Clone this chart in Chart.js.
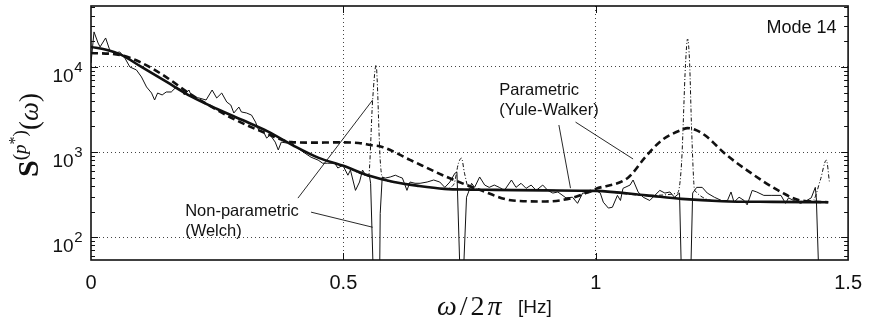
<!DOCTYPE html>
<html>
<head>
<meta charset="utf-8">
<script src="https://cdn.jsdelivr.net/npm/chart.js@4.4.0/dist/chart.umd.min.js"></script>
<style>
  html, body { margin: 0; padding: 0; background: #fff; }
  #wrap { width: 873px; height: 324px; }
</style>
</head>
<body>
<div id="wrap"><canvas id="chart1"></canvas></div>
<script>
// Welch estimate (thin solid), dips go below the axis
const welchX = [0,0.006,0.014,0.018,0.029,0.037,0.047,0.057,0.067,0.077,
  0.090,0.100,0.110,0.120,0.126,0.132,0.141,0.149,0.159,0.169,
  0.179,0.185,0.194,0.200,0.214,0.228,0.240,0.249,0.259,0.269,
  0.277,0.283,0.293,0.298,0.308,0.318,0.326,0.332,0.342,0.348,
  0.355,0.365,0.371,0.377,0.387,0.397,0.406,0.424,0.436,0.450,
  0.459,0.469,0.483,0.489,0.499,0.509,0.514,0.524,0.532,0.538,
  0.544,0.552,0.554,0.562,0.571,0.573,0.577,0.583,0.593,0.603,
  0.611,0.617,0.626,0.632,0.642,0.652,0.666,0.679,0.691,0.701,
  0.711,0.721,0.725,0.734,0.744,0.748,0.754,0.760,0.770,0.780,
  0.789,0.799,0.809,0.819,0.833,0.842,0.852,0.862,0.872,0.882,
  0.895,0.905,0.915,0.925,0.941,0.954,0.964,0.974,0.986,1.000,
  1.009,1.015,1.025,1.033,1.043,1.049,1.054,1.068,1.074,1.084,
  1.094,1.107,1.117,1.127,1.137,1.147,1.156,1.166,1.172,1.186,
  1.192,1.200,1.211,1.221,1.235,1.249,1.261,1.268,1.274,1.284,
  1.294,1.300,1.310,1.319,1.333,1.349,1.367,1.376,1.382,1.392,
  1.406,1.418,1.427,1.435,1.437,1.445];
const welchY = [11140,25800,19100,17200,21900,15850,14600,15000,12760,10000,
  9220,7630,5820,4940,4090,4940,4690,5080,5080,5820,
  5360,4690,5360,4440,4320,4090,5360,4320,4940,3870,
  3570,2880,3380,2960,2880,2720,2250,1820,1720,1460,
  1590,1310,1060,1310,1280,1310,1150,970,870,805,
  740,740,740,650,700,535,615,355,445,615,
  535,510,430,10,10,190,510,495,510,535,
  510,495,355,445,430,430,445,470,445,385,
  445,565,580,10,295,340,430,385,510,410,
  385,410,385,355,470,385,430,375,410,355,
  410,355,330,340,290,295,250,330,330,355,
  330,258,220,225,310,270,375,410,470,340,
  295,270,310,355,330,340,295,330,10,10,
  330,385,385,330,295,270,270,340,258,295,
  270,240,355,340,310,310,310,250,290,270,
  250,270,290,385,295,10];

// smooth fit (thick solid)
const smoothX = [0,0.03,0.06,0.1,0.15,0.2,0.25,0.3,0.35,0.4,0.45,0.5,0.55,0.6,0.65,0.7,0.75,0.8,0.9,1.0,1.1,1.17,1.25,1.35,1.46];
const smoothY = [17200,15900,13840,10000,6660,4440,3210,2380,1750,1200,860,690,530,445,400,370,362,360,355,350,310,282,265,260,258];

// Yule-Walker (thick dashed)
const ywX = [0,0.057,0.096,0.149,0.19,0.214,0.279,0.346,0.397,0.44,0.489,0.530,0.554,0.577,0.632,0.705,0.770,0.836,0.901,0.954,1.0,1.064,1.098,1.131,1.170,1.182,1.200,1.221,1.255,1.30,1.367,1.406,1.461];
const ywY = [14600,13840,11500,7600,5100,4150,2510,1670,1310,1290,1300,1280,1210,1150,810,510,360,270,263,290,370,500,870,1380,1820,1910,1800,1500,970,610,340,270,258];

// sharp-peak spectrum (thin dash-dot), hidden under the fit between peaks
const peakX = [0,0.03,0.06,0.1,0.15,0.2,0.25,0.3,0.35,0.4,0.45,0.5,0.55,0.558,0.565,0.567,0.571,0.573,0.577,0.6,0.65,0.7,0.719,0.728,0.734,0.740,0.748,0.8,0.9,1.0,1.1,1.162,1.170,1.178,1.182,1.186,1.190,1.196,1.25,1.35,1.43,1.445,1.457,1.463];
const peakY = [17200,15900,13840,10000,6660,4440,3210,2380,1750,1200,860,690,530,4090,10560,7030,1500,805,510,445,400,370,420,740,850,565,385,360,355,350,310,330,740,11140,21300,11140,1820,355,265,260,270,470,805,445];

const yPowers = [2, 3, 4];
const xTicks = [0, 0.5, 1, 1.5];

// annotation texts and leader lines (data coords)
const notes = [
  {text: 'Mode 14', x: 1.477, y: 28800, align: 'right', size: 18},
  {text: 'Parametric', x: 0.809, y: 5360, align: 'left', size: 16.5},
  {text: '(Yule-Walker)', x: 0.809, y: 3120, align: 'left', size: 16.5},
  {text: 'Non-parametric', x: 0.1865, y: 202, align: 'left', size: 16.5},
  {text: '(Welch)', x: 0.1865, y: 118, align: 'left', size: 16.5}
];
const leaders = [
  [0.927, 2080, 0.950, 377],
  [0.960, 2250, 1.074, 830],
  [0.410, 288, 0.558, 4090],
  [0.436, 197, 0.558, 131]
];

//helper functions
function pts(xs, ys) {
  return xs.map((v, i) => ({x: v, y: ys[i]}));
}
function isPow10(v) {
  const e = Math.log10(v);
  return Math.abs(e - Math.round(e)) < 1e-9;
}
function isLogTick(v) {
  const m = v / Math.pow(10, Math.floor(Math.log10(v) + 1e-9));
  return Math.abs(m - Math.round(m)) < 1e-6;
}

const SANS = '"Liberation Sans", Arial, sans-serif';
const SERIF = '"Liberation Serif", "Times New Roman", serif';

const decor = {
  id: 'decor',
  afterDraw(chart) {
    const {ctx, chartArea: a, scales: {x, y}} = chart;
    ctx.save();
    ctx.strokeStyle = '#111';
    ctx.fillStyle = '#111';

    // inward tick marks
    ctx.lineWidth = 1;
    ctx.beginPath();
    y.ticks.forEach(t => {
      if (!isLogTick(t.value)) return;
      const py = Math.round(y.getPixelForValue(t.value)) + 0.5;
      const len = isPow10(t.value) ? 7 : 4;
      ctx.moveTo(a.left, py); ctx.lineTo(a.left + len, py);
      ctx.moveTo(a.right, py); ctx.lineTo(a.right - len, py);
    });
    xTicks.slice(1, -1).forEach(v => {
      const px = Math.round(x.getPixelForValue(v)) + 0.5;
      ctx.moveTo(px, a.bottom); ctx.lineTo(px, a.bottom - 7);
      ctx.moveTo(px, a.top); ctx.lineTo(px, a.top + 7);
    });
    ctx.stroke();

    // frame
    ctx.lineWidth = 1.6;
    ctx.strokeRect(a.left, a.top, a.right - a.left, a.bottom - a.top);

    // y tick labels 10^n
    ctx.textAlign = 'left';
    ctx.textBaseline = 'alphabetic';
    yPowers.forEach(p => {
      const py = y.getPixelForValue(Math.pow(10, p));
      ctx.font = '19px ' + SANS;
      const w10 = ctx.measureText('10').width;
      ctx.font = '15px ' + SANS;
      const ws = ctx.measureText(String(p)).width;
      const x0 = a.left - 9 - ws - w10;
      ctx.font = '19px ' + SANS;
      ctx.fillText('10', x0, py + 15);
      ctx.font = '15px ' + SANS;
      ctx.fillText(String(p), x0 + w10 + 0.5, py + 5);
    });

    // annotations
    ctx.textBaseline = 'middle';
    notes.forEach(n => {
      ctx.font = n.size + 'px ' + SANS;
      ctx.textAlign = n.align;
      ctx.fillText(n.text, x.getPixelForValue(n.x), y.getPixelForValue(n.y));
    });
    ctx.lineWidth = 0.9;
    ctx.beginPath();
    leaders.forEach(l => {
      ctx.moveTo(x.getPixelForValue(l[0]), y.getPixelForValue(l[1]));
      ctx.lineTo(x.getPixelForValue(l[2]), y.getPixelForValue(l[3]));
    });
    ctx.stroke();

    // x title: ω/2π [Hz]
    ctx.textAlign = 'left';
    ctx.textBaseline = 'alphabetic';
    const base = a.bottom + 55;
    let cx = a.left + 346;
    [['ω', 'italic 28px ' + SERIF], ['/', '28px ' + SERIF],
     ['2', '28px ' + SERIF], ['π', 'italic 28px ' + SERIF]].forEach(p => {
      ctx.font = p[1];
      ctx.fillText(p[0], cx, base);
      cx += ctx.measureText(p[0]).width + 3;
    });
    ctx.font = '19px ' + SANS;
    ctx.fillText('[Hz]', a.left + 427, base - 2);

    // y title: S^(p*)(ω), rotated
    const parts = [
      ['S', 'bold 30px ' + SERIF, 0],
      ['(', '19px ' + SERIF, -12],
      ['p', 'italic 19px ' + SERIF, -12],
      ['*', '16px ' + SERIF, -18],
      [')', '19px ' + SERIF, -12],
      ['(', '27px ' + SERIF, 0],
      ['ω', 'italic 27px ' + SERIF, 0],
      [')', '27px ' + SERIF, 0]
    ];
    let total = 0;
    parts.forEach(p => { ctx.font = p[1]; total += ctx.measureText(p[0]).width; });
    ctx.translate(38, (a.top + a.bottom) / 2 + 2);
    ctx.rotate(-Math.PI / 2);
    let u = -total / 2;
    parts.forEach(p => {
      ctx.font = p[1];
      ctx.fillText(p[0], u, p[2]);
      u += ctx.measureText(p[0]).width;
    });
    ctx.restore();
  }
};

// Creating chart
function createChart() {
  const ctx = document.getElementById('chart1');
  new Chart(ctx, {
    type: 'line',
    data: {
      datasets: [
        {
          label: 'Fit',
          data: pts(smoothX, smoothY),
          borderColor: '#111',
          borderWidth: 2.6,
          cubicInterpolationMode: 'monotone',
          pointRadius: 0
        },
        {
          label: 'Welch',
          data: pts(welchX, welchY),
          borderColor: '#111',
          borderWidth: 1,
          tension: 0,
          pointRadius: 0
        },
        {
          label: 'Yule-Walker',
          data: pts(ywX, ywY),
          borderColor: '#111',
          borderWidth: 2.6,
          borderDash: [7, 4],
          cubicInterpolationMode: 'monotone',
          pointRadius: 0
        },
        {
          label: 'Peaks',
          data: pts(peakX, peakY),
          borderColor: '#111',
          borderWidth: 1,
          borderDash: [4, 2, 1, 2],
          cubicInterpolationMode: 'monotone',
          pointRadius: 0
        }
      ]
    },
    options: {
      responsive: true,
      maintainAspectRatio: false,
      animation: false,
      layout: { padding: { top: 6, right: 18, left: 0, bottom: 0 } },
      plugins: { legend: { display: false }, tooltip: { enabled: false } },
      scales: {
        x: {
          type: 'linear',
          min: 0,
          max: 1.5,
          afterFit: s => { s.height = 64; },
          afterBuildTicks: s => { s.ticks = xTicks.map(v => ({value: v})); },
          ticks: {
            color: '#111',
            font: { family: SANS, size: 20 },
            padding: 11,
            maxRotation: 0,
            autoSkip: false,
            callback: v => String(v)
          },
          grid: {
            drawTicks: false,
            lineWidth: 1,
            color: c => (c.tick && c.tick.value > 0 && c.tick.value < 1.5) ? '#444' : 'rgba(0,0,0,0)'
          },
          border: { display: false, dash: [1, 3] }
        },
        y: {
          type: 'logarithmic',
          min: 54,
          max: 52000,
          afterFit: s => { s.width = 91; },
          ticks: { display: false, autoSkip: false },
          grid: {
            drawTicks: false,
            lineWidth: 1,
            color: c => (c.tick && isPow10(c.tick.value)) ? '#444' : 'rgba(0,0,0,0)'
          },
          border: { display: false, dash: [1, 3] }
        }
      }
    },
    plugins: [decor]
  });
}

createChart();
</script>
</body>
</html>
